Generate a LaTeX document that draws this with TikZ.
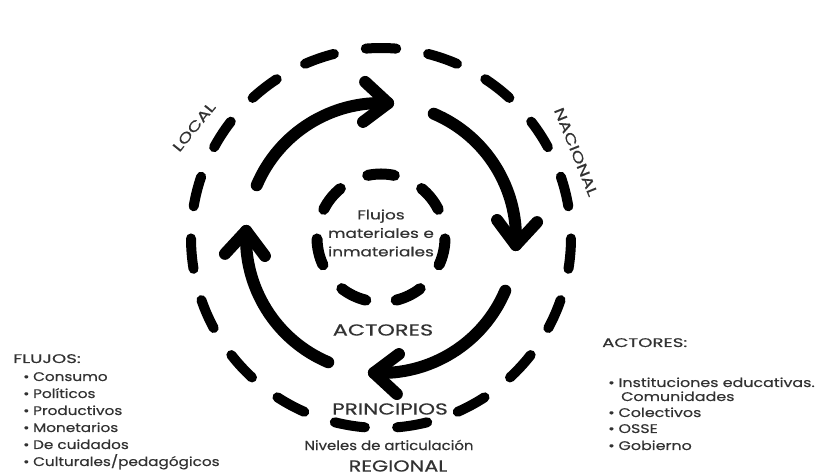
\documentclass[tikz,border=0pt]{standalone}
\usepackage{fontspec}
\setmainfont{Poppins}[FakeBold=0.4]
\definecolor{txtgray}{RGB}{50,50,50}
\newcommand{\widetxt}[2]{\scalebox{#1}[1]{#2}}
\begin{document}
\begin{tikzpicture}[x=1pt,y=1pt,
  outerdash/.style={line width=10pt, line cap=round, black},
  innerdash/.style={line width=11pt, line cap=round, black},
  flow/.style={line width=12pt, line cap=round, line join=round, black},
  lbl/.style={text=txtgray, inner sep=0pt},
  big/.style={lbl, font=\fontsize{16}{18.5}\selectfont},
  mid/.style={lbl, font=\fontsize{13}{18.5}\selectfont, align=center},
  lst/.style={lbl, font=\fontsize{12.5}{15}\selectfont, anchor=base west},
]
\useasboundingbox (0,0) rectangle (828,473);
\fill[white] (0,0) rectangle (828,473);
\coordinate (c) at (381,235);
% outer dashed ring: 19 dashes
\foreach \i in {0,...,18}{
  \pgfmathsetmacro\a{90+\i*360/19}
  \draw[outerdash] (c) ++(\a-4.6:190) arc[start angle=\a-4.6, end angle=\a+4.6, radius=190];
}
% inner dashed ring: 7 dashes
\foreach \i in {0,...,6}{
  \pgfmathsetmacro\a{90+\i*360/7}
  \draw[innerdash] (c) ++(\a-12:64) arc[start angle=\a-12, end angle=\a+12, radius=64];
}
% four clockwise arrows
\foreach \k in {0,1,2,3}{
  \pgfmathsetmacro\s{157-90*\k}
  \pgfmathsetmacro\t{87-90*\k}
  \draw[flow] (c) ++(\s:135) arc[start angle=\s, end angle=\t, radius=135];
  \begin{scope}[shift={(c)}, rotate=\t]
    \draw[flow] (115,24) -- (135,0) -- (155,24);
  \end{scope}
}
% centre texts
\node[mid] (flujos) at (381,240) {\widetxt{1.3}{Flujos}\\\widetxt{1.3}{materiales e}\\\widetxt{1.3}{inmateriales}};
\node[big] (actores) at (383,143) {\widetxt{1.4}{ACTORES}};
\node[big] (principios) at (390,64) {\widetxt{1.35}{PRINCIPIOS}};
\node[mid] (niveles) at (389,28) {\widetxt{1.15}{Niveles de articulación}};
\node[big] (regional) at (398,7) {\widetxt{1.3}{REGIONAL}};
\node[lbl, font=\fontsize{14}{16}\selectfont, rotate=51] (local) at (194,346) {\widetxt{1.35}{LOCAL}};
\node[lbl, font=\fontsize{14}{16}\selectfont, rotate=-68] (nacional) at (576,321) {\widetxt{1.35}{NACIONAL}};
% left list
\node[lst] (fl0) at (13,110) {\widetxt{1.45}{FLUJOS:}};
\node[lst] (fl1) at (23,92) {\widetxt{1.22}{•\hspace{3pt}Consumo}};
\node[lst] (fl2) at (23,75) {\widetxt{1.22}{•\hspace{3pt}Políticos}};
\node[lst] (fl3) at (23,58) {\widetxt{1.22}{•\hspace{3pt}Productivos}};
\node[lst] (fl4) at (23,41) {\widetxt{1.22}{•\hspace{3pt}Monetarios}};
\node[lst] (fl5) at (23,24) {\widetxt{1.22}{•\hspace{3pt}De cuidados}};
\node[lst] (fl6) at (23,7) {\widetxt{1.22}{•\hspace{3pt}Culturales/pedagógicos}};
% right list
\node[lst] (ac0) at (602,126) {\widetxt{1.45}{ACTORES:}};
\node[lst] (ac1) at (608,86) {\widetxt{1.27}{•\hspace{3pt}Instituciones educativas.}};
\node[lst] (ac1b) at (621,72) {\widetxt{1.27}{Comunidades}};
\node[lst] (ac2) at (608,56) {\widetxt{1.27}{•\hspace{3pt}Colectivos}};
\node[lst] (ac3) at (608,40) {\widetxt{1.27}{•\hspace{3pt}OSSE}};
\node[lst] (ac4) at (608,23) {\widetxt{1.27}{•\hspace{3pt}Gobierno}};
\end{tikzpicture}
\end{document}
